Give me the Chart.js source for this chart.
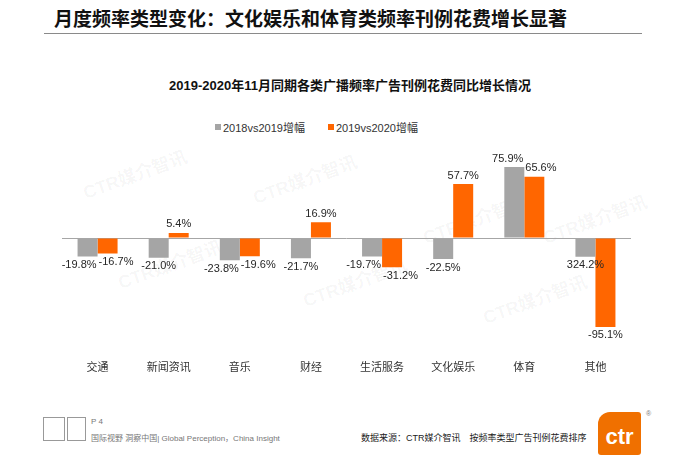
<!DOCTYPE html>
<html>
<head>
  <meta charset="utf-8">
  <title>广播频率广告刊例花费同比增长</title>
  <style>
    body {
      margin: 0;
      width: 682px;
      height: 468px;
      background: #ffffff;
      font-family: "Liberation Sans", "Noto Sans CJK SC", sans-serif;
      position: relative;
      overflow: hidden;
    }
    .page-title {
      position: absolute;
      left: 54px;
      top: 6px;
      font-family: "Noto Sans CJK SC", sans-serif;
      font-weight: bold;
      font-size: 19px;
      line-height: 24px;
      color: #111;
      white-space: nowrap;
    }
    .rule {
      position: absolute;
      left: 44px;
      top: 33px;
      width: 598px;
      height: 1px;
      background: #8a8a8a;
    }
    .chart-title {
      position: absolute;
      left: 0;
      width: 700px;
      top: 75px;
      text-align: center;
      font-weight: bold;
      font-size: 13px;
      color: #111;
      white-space: nowrap;
    }
    .legend {
      position: absolute;
      left: 215px;
      top: 119px;
      font-size: 11px;
      color: #333;
      white-space: nowrap;
      display: flex;
      align-items: center;
    }
    .legend span.box {
      display: inline-block;
      width: 6px;
      height: 6px;
      margin-right: 2px;
    }
    .legend span.item {
      display: inline-flex;
      align-items: center;
      margin-right: 23px;
    }
    .mark {
      position: absolute;
      font-weight: bold;
      font-size: 18px;
      color: rgba(0, 0, 0, 0.045);
      transform: rotate(-20deg);
      white-space: nowrap;
    }
    canvas {
      position: absolute;
      left: 0;
      top: 140px;
    }
    .foot-small {
      position: absolute;
      font-size: 8px;
      color: #777;
      white-space: nowrap;
    }
    .source {
      position: absolute;
      left: 361px;
      top: 431px;
      font-size: 9px;
      color: #222;
      white-space: nowrap;
    }
    .logo {
      position: absolute;
      left: 598px;
      top: 412px;
      width: 43px;
      height: 43px;
      background: #f07000;
      border-radius: 12px 3px 3px 3px;
      color: #fff;
      font-weight: bold;
      font-size: 22px;
      line-height: 50px;
      text-align: center;
    }
    .cert {
      position: absolute;
      top: 417px;
      height: 22px;
      border: 1px solid #999;
    }
  </style>
  <script src="https://cdn.jsdelivr.net/npm/chart.js"></script>
</head>
<body>
  <div class="page-title">月度频率类型变化：文化娱乐和体育类频率刊例花费增长显著</div>
  <div class="rule"></div>
  <div class="chart-title">2019-2020年11月同期各类广播频率广告刊例花费同比增长情况</div>
  <div class="legend" id="legend"></div>

  <div class="mark" style="left:80px;top:160px;">CTR媒介智讯</div>
  <div class="mark" style="left:115px;top:250px;">CTR媒介智讯</div>
  <div class="mark" style="left:250px;top:165px;">CTR媒介智讯</div>
  <div class="mark" style="left:300px;top:268px;">CTR媒介智讯</div>
  <div class="mark" style="left:420px;top:205px;">CTR媒介智讯</div>
  <div class="mark" style="left:480px;top:285px;">CTR媒介智讯</div>
  <div class="mark" style="left:540px;top:205px;">CTR媒介智讯</div>

  <canvas id="chartCanvas" width="682" height="240"></canvas>

  <div class="cert" style="left:43px;width:20px;"></div>
  <div class="cert" style="left:67px;width:17px;"></div>
  <div class="foot-small" style="left:91px;top:417px;">P 4</div>
  <div class="foot-small" style="left:91px;top:432px;">国际视野 洞察中国| Global Perception，China Insight</div>
  <div class="source">数据来源：CTR媒介智讯　按频率类型广告刊例花费排序</div>
  <div class="logo">ctr</div>
  <div class="foot-small" style="left:646px;top:410px;font-size:7px;">®</div>

  <script>
    // categories and series
    var categories = ['交通', '新闻资讯', '音乐', '财经', '生活服务', '文化娱乐', '体育', '其他'];
    var seriesNames = ['2018vs2019增幅', '2019vs2020增幅'];
    var seriesColors = ['#A5A5A5', '#FF6600'];

    // bar heights as drawn in the source (the last grey bar is drawn short
    // and negative even though its printed label says 324.2%)
    var growth1819 = [-19.8, -21.0, -23.8, -21.7, -19.7, -22.5, 75.9, -20.0];
    var growth1920 = [-16.7, 5.4, -19.6, 16.9, -31.2, 57.7, 65.6, -95.1];

    // printed labels
    var labels1819 = ['-19.8%', '-21.0%', '-23.8%', '-21.7%', '-19.7%', '-22.5%', '75.9%', '324.2%'];
    var labels1920 = ['-16.7%', '5.4%', '-19.6%', '16.9%', '-31.2%', '57.7%', '65.6%', '-95.1%'];
    var allLabels = [labels1819, labels1920];

    // legend (html)
    var legendElem = document.getElementById('legend');
    seriesNames.forEach(function(name, i) {
      var item = document.createElement('span');
      item.className = 'item';
      var box = document.createElement('span');
      box.className = 'box';
      box.style.background = seriesColors[i];
      item.appendChild(box);
      item.appendChild(document.createTextNode(name));
      legendElem.appendChild(item);
    });

    // draws the value labels at the end of each bar, pushing the pair
    // apart sideways when they would sit on top of each other
    var valueLabels = {
      id: 'valueLabels',
      afterDatasetsDraw: function(chart) {
        var ctx = chart.ctx;
        ctx.save();
        ctx.font = '11px "Liberation Sans", sans-serif';
        ctx.fillStyle = '#262626';
        ctx.textAlign = 'center';
        var m0 = chart.getDatasetMeta(0);
        var m1 = chart.getDatasetMeta(1);
        categories.forEach(function(cat, i) {
          var pos = [];
          [m0, m1].forEach(function(meta, di) {
            var bar = meta.data[i];
            var v = chart.data.datasets[di].data[i];
            var text = allLabels[di][i];
            pos.push({
              text: text,
              x: bar.x,
              top: v >= 0 ? bar.y - 2 - 12 : bar.y + 3,
              w: ctx.measureText(text).width
            });
          });
          var a = pos[0], b = pos[1];
          if (Math.abs(a.top - b.top) < 14) {
            var need = (a.w + b.w) / 2 + 2;
            var gap = b.x - a.x;
            if (gap < need) {
              a.x -= (need - gap) / 2;
              b.x += (need - gap) / 2;
            }
          }
          ctx.textBaseline = 'top';
          pos.forEach(function(p) {
            ctx.fillText(p.text, p.x, p.top);
          });
        });
        ctx.restore();
      }
    };

    var ctx = document.getElementById('chartCanvas').getContext('2d');
    var chart = new Chart(ctx, {
      type: 'bar',
      data: {
        labels: categories,
        datasets: [
          {
            label: seriesNames[0],
            data: growth1819,
            backgroundColor: seriesColors[0],
            categoryPercentage: 0.5625,
            barPercentage: 1.0
          },
          {
            label: seriesNames[1],
            data: growth1920,
            backgroundColor: seriesColors[1],
            categoryPercentage: 0.5625,
            barPercentage: 1.0
          }
        ]
      },
      options: {
        responsive: false,
        animation: false,
        devicePixelRatio: 1,
        layout: {
          padding: { left: 62, right: 51, top: 4.5, bottom: 6.5 }
        },
        plugins: {
          legend: { display: false },
          title: { display: false },
          tooltip: { enabled: false }
        },
        scales: {
          x: {
            afterFit: function(scale) { scale.height = 42; },
            grid: { display: false, drawTicks: false },
            border: { display: false },
            ticks: {
              padding: 29,
              maxRotation: 0,
              color: '#333',
              font: { family: '"Noto Sans CJK SC", sans-serif', size: 11 }
            }
          },
          y: {
            min: -100,
            max: 100,
            afterFit: function(scale) { scale.width = 0; },
            border: { display: false },
            grid: {
              drawTicks: false,
              lineWidth: 1,
              color: function(c) {
                return c.tick && c.tick.value === 0 ? '#a6a6a6' : 'rgba(0,0,0,0)';
              }
            },
            ticks: { display: false, stepSize: 20 }
          }
        }
      },
      plugins: [valueLabels]
    });
  </script>
</body>
</html>
